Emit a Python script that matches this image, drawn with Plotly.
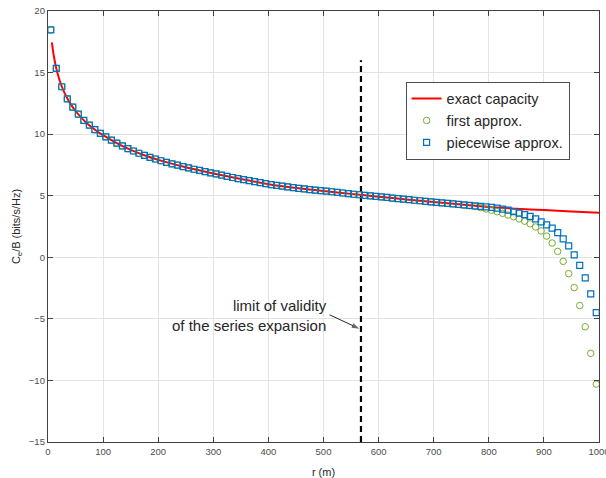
import plotly.graph_objects as go

# ---------------- data ----------------
r_markers = list(range(5, 1000, 10))  # 5, 15, ..., 995

first_approx = [
    18.46, 15.34, 13.85, 12.87, 12.20, 11.62, 11.11, 10.73, 10.37, 10.06,
    9.78, 9.51, 9.27, 9.04, 8.82, 8.63, 8.45, 8.28, 8.12, 7.98,
    7.84, 7.71, 7.59, 7.48, 7.37, 7.26, 7.15, 7.05, 6.96, 6.86,
    6.77, 6.67, 6.57, 6.48, 6.39, 6.31, 6.23, 6.15, 6.07, 5.98,
    5.90, 5.84, 5.78, 5.72, 5.66, 5.60, 5.55, 5.50, 5.45, 5.41,
    5.37, 5.32, 5.27, 5.22, 5.17, 5.12, 5.08, 5.03, 4.99, 4.94,
    4.90, 4.86, 4.81, 4.77, 4.72, 4.68, 4.63, 4.59, 4.54, 4.50,
    4.46, 4.42, 4.38, 4.34, 4.29, 4.23, 4.18, 4.12, 4.03, 3.92,
    3.82, 3.70, 3.57, 3.43, 3.29, 3.12, 2.93, 2.72, 2.46, 2.14,
    1.72, 1.16, 0.48, -0.33, -1.33, -2.46, -3.92, -5.64, -7.80, -10.30,
]

piecewise_approx = [
    18.46, 15.34, 13.85, 12.87, 12.20, 11.62, 11.11, 10.73, 10.37, 10.06,
    9.78, 9.51, 9.27, 9.04, 8.82, 8.63, 8.45, 8.28, 8.12, 7.98,
    7.84, 7.71, 7.59, 7.48, 7.37, 7.26, 7.15, 7.05, 6.96, 6.86,
    6.77, 6.67, 6.57, 6.48, 6.39, 6.31, 6.23, 6.15, 6.07, 5.98,
    5.90, 5.84, 5.78, 5.72, 5.66, 5.60, 5.55, 5.50, 5.45, 5.41,
    5.37, 5.32, 5.27, 5.22, 5.17, 5.12, 5.08, 5.03, 4.99, 4.94,
    4.90, 4.86, 4.81, 4.77, 4.72, 4.68, 4.63, 4.59, 4.54, 4.50,
    4.46, 4.42, 4.38, 4.34, 4.30, 4.26, 4.22, 4.18, 4.14, 4.10,
    4.06, 3.99, 3.91, 3.83, 3.70, 3.59, 3.47, 3.33, 3.12, 2.88,
    2.63, 2.36, 2.00, 1.50, 0.92, 0.20, -0.66, -1.67, -2.97, -4.50,
]

r_exact = [7, 10, 15, 20, 25, 30, 40, 50, 60, 70, 80, 90, 100, 120, 140, 160,
           180, 200, 250, 300, 350, 400, 450, 500, 550, 600, 650, 700, 750,
           800, 850, 900, 950, 1000]
exact_capacity = [17.46, 16.50, 15.34, 14.52, 13.87, 13.35, 12.52, 11.88, 11.36,
                  10.91, 10.54, 10.21, 9.92, 9.40, 8.93, 8.54, 8.20, 7.91, 7.31,
                  6.81, 6.35, 5.94, 5.63, 5.39, 5.15, 4.92, 4.70, 4.48, 4.28,
                  4.08, 3.95, 3.83, 3.72, 3.61]

limit_r = [568, 568]
limit_y = [-15, 16]

arrow_r = [511, 565]
arrow_y = [-4.67, -5.80]

x_ticks = [0, 100, 200, 300, 400, 500, 600, 700, 800, 900, 1000]
y_ticks = [-15, -10, -5, 0, 5, 10, 15, 20]

FONT = "Liberation Sans, Arial, Helvetica, sans-serif"

fig = go.Figure()
fig.add_trace(go.Scatter(
    x=limit_r, y=limit_y, mode="lines", showlegend=False, hoverinfo="skip",
    line=dict(color="black", width=2.2, dash="6px,4px")))
fig.add_trace(go.Scatter(
    x=arrow_r, y=arrow_y, mode="lines+markers", showlegend=False, hoverinfo="skip",
    line=dict(color="#262626", width=1),
    marker=dict(symbol="arrow", angleref="previous", size=[0, 8],
                color="#262626", line=dict(width=0))))
fig.add_trace(go.Scatter(
    x=r_exact, y=exact_capacity, mode="lines", name="exact capacity",
    line=dict(color="#FF0000", width=2, shape="spline", smoothing=0.6)))
fig.add_trace(go.Scatter(
    x=r_markers, y=first_approx, mode="markers", name="first approx.",
    marker=dict(symbol="circle-open", size=6.5, color="#77AC30",
                line=dict(width=1, color="#77AC30"))))
fig.add_trace(go.Scatter(
    x=r_markers, y=piecewise_approx, mode="markers", name="piecewise approx.",
    marker=dict(symbol="square-open", size=6, color="#0072BD",
                line=dict(width=1.2, color="#0072BD"))))

fig.add_annotation(x=509.5, y=-4.7, xref="x", yref="y",
                   text="limit of validity<br>of the series expansion",
                   showarrow=False, align="right", xanchor="right",
                   yanchor="middle",
                   font=dict(family=FONT, size=15, color="#262626"))

# y-axis title placed as rotated annotation
fig.add_annotation(x=-0.057, y=0.5, xref="paper", yref="paper",
                   text="C<sub>e</sub>/B (bits/s/Hz)", textangle=-90,
                   showarrow=False, xanchor="center", yanchor="middle",
                   font=dict(family=FONT, size=11, color="#262626"))

axis_common = dict(
    showline=True, linecolor="#404040", linewidth=1.3, mirror="ticks",
    ticks="inside", ticklen=5, tickwidth=1, tickcolor="#404040",
    showgrid=True, gridcolor="#e3e3e3", gridwidth=1, zeroline=False,
    tickfont=dict(family=FONT, size=9.5, color="#4d4d4d"),
    automargin=False, ticklabeloverflow="allow",
)

fig.update_xaxes(range=[0, 1000], tickvals=x_ticks,
                 title=dict(text="r (m)", font=dict(family=FONT, size=11, color="#262626")),
                 **axis_common)
fig.update_yaxes(range=[-15, 20], tickvals=y_ticks, **axis_common)

fig.update_layout(
    width=606, height=478,
    margin=dict(l=48, r=7, t=11, b=36, autoexpand=False),
    paper_bgcolor="white", plot_bgcolor="white",
    font=dict(family=FONT),
    legend=dict(x=0.649, y=0.836, xanchor="left", yanchor="top",
                bgcolor="white", bordercolor="#4d4d4d", borderwidth=1,
                font=dict(family=FONT, size=14.5, color="#262626"),
                tracegroupgap=0, itemwidth=30),
)

fig.write_html("out.html",
               config={"displayModeBar": False},
               post_script="document.body.style.margin='0';"
                           "document.body.style.overflow='hidden';")
